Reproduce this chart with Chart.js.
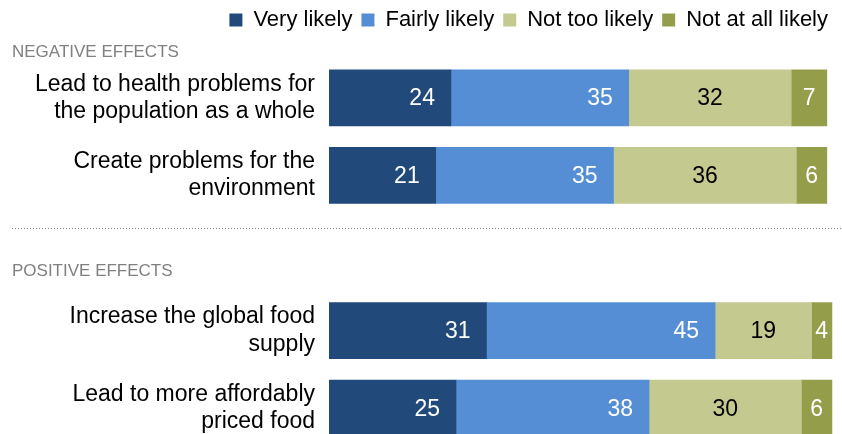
<!DOCTYPE html>
<html>
<head>
<meta charset="utf-8">
<script src="https://cdn.jsdelivr.net/npm/chart.js@4"></script>
<style>
  html, body { margin: 0; padding: 0; background: #fff; overflow: hidden; }
  canvas { display: block; }
</style>
</head>
<body>
<canvas id="grafica" width="842" height="450"></canvas>
<script>
// datos del gráfico
const categorias = [
  ['Lead to health problems for', 'the population as a whole'],
  ['Create problems for the', 'environment'],
  '',
  ['Increase the global food', 'supply'],
  ['Lead to more affordably', 'priced food']
];
const seccion = ['NEGATIVE EFFECTS', 'POSITIVE EFFECTS'];
const muyProbable = [24, 21, null, 31, 25];
const bastanteProbable = [35, 35, null, 45, 38];
const pocoProbable = [32, 36, null, 19, 30];
const nadaProbable = [7, 6, null, 4, 6];

const fuente = "'Liberation Sans', Arial, sans-serif";

// etiquetas de valores dentro de las barras
const etiquetasValores = {
  id: 'etiquetasValores',
  afterDatasetsDraw(chart) {
    const ctx = chart.ctx;
    ctx.save();
    ctx.font = '23px ' + fuente;
    ctx.textBaseline = 'middle';
    chart.data.datasets.forEach((ds, i) => {
      const meta = chart.getDatasetMeta(i);
      meta.data.forEach((bar, j) => {
        const v = ds.data[j];
        if (v == null) return;
        if (i < 2) {
          ctx.textAlign = 'right';
          ctx.fillStyle = '#fff';
          ctx.fillText(v, bar.x - 16, bar.y + 1);
        } else {
          ctx.textAlign = 'center';
          ctx.fillStyle = i === 2 ? '#000' : '#fff';
          ctx.fillText(v, (bar.x + bar.base) / 2, bar.y + 1);
        }
      });
    });
    ctx.restore();
  }
};

// títulos de sección y línea punteada
const secciones = {
  id: 'secciones',
  afterDraw(chart) {
    const ctx = chart.ctx;
    const y = chart.scales.y;
    const hueco = y.getPixelForValue(2);
    ctx.save();
    ctx.font = '17px ' + fuente;
    ctx.fillStyle = '#808080';
    ctx.textAlign = 'left';
    ctx.textBaseline = 'middle';
    ctx.fillText(seccion[0], 12, y.getPixelForValue(0) - 45);
    ctx.fillText(seccion[1], 12, hueco + 18);
    ctx.strokeStyle = '#888';
    ctx.lineWidth = 1;
    ctx.setLineDash([1, 2]);
    ctx.beginPath();
    ctx.moveTo(12, Math.round(hueco - 25) + 0.5);
    ctx.lineTo(842, Math.round(hueco - 25) + 0.5);
    ctx.stroke();
    ctx.restore();
  }
};

// altura fija para la leyenda
const margenLeyenda = {
  id: 'margenLeyenda',
  beforeInit(chart) {
    const fit = chart.legend.fit;
    chart.legend.fit = function () {
      fit.bind(chart.legend)();
      this.height = 59;
    };
  }
};

function generarGrafica(grafica) {
  new Chart(grafica, {
    type: 'bar',
    data: {
      labels: categorias,
      datasets: [
        { label: 'Very likely', data: muyProbable, backgroundColor: '#214a7b' },
        { label: 'Fairly likely', data: bastanteProbable, backgroundColor: '#558ed5' },
        { label: 'Not too likely', data: pocoProbable, backgroundColor: '#c4c98f' },
        { label: 'Not at all likely', data: nadaProbable, backgroundColor: '#939d4a' }
      ]
    },
    options: {
      indexAxis: 'y',
      responsive: false,
      animation: false,
      layout: { padding: { top: 0, right: 5, bottom: 3, left: 0 } },
      datasets: { bar: { barThickness: 56, borderWidth: 0 } },
      scales: {
        x: { stacked: true, min: 0, max: 100, display: false },
        y: {
          stacked: true,
          grid: { display: false, drawTicks: false },
          border: { display: false },
          ticks: {
            color: '#000',
            padding: 14,
            font: { size: 23, family: fuente, lineHeight: 1.18 }
          },
          afterFit(s) {
            s.width = 329;
            s.paddingTop = 0;
            s.paddingBottom = 0;
          }
        }
      },
      plugins: {
        legend: {
          position: 'top',
          align: 'end',
          labels: {
            boxWidth: 13,
            boxHeight: 13,
            padding: 9,
            color: '#000',
            font: { size: 22, family: fuente }
          }
        },
        tooltip: { enabled: false }
      }
    },
    plugins: [etiquetasValores, secciones, margenLeyenda]
  });
}

generarGrafica(document.getElementById('grafica'));
</script>
</body>
</html>
